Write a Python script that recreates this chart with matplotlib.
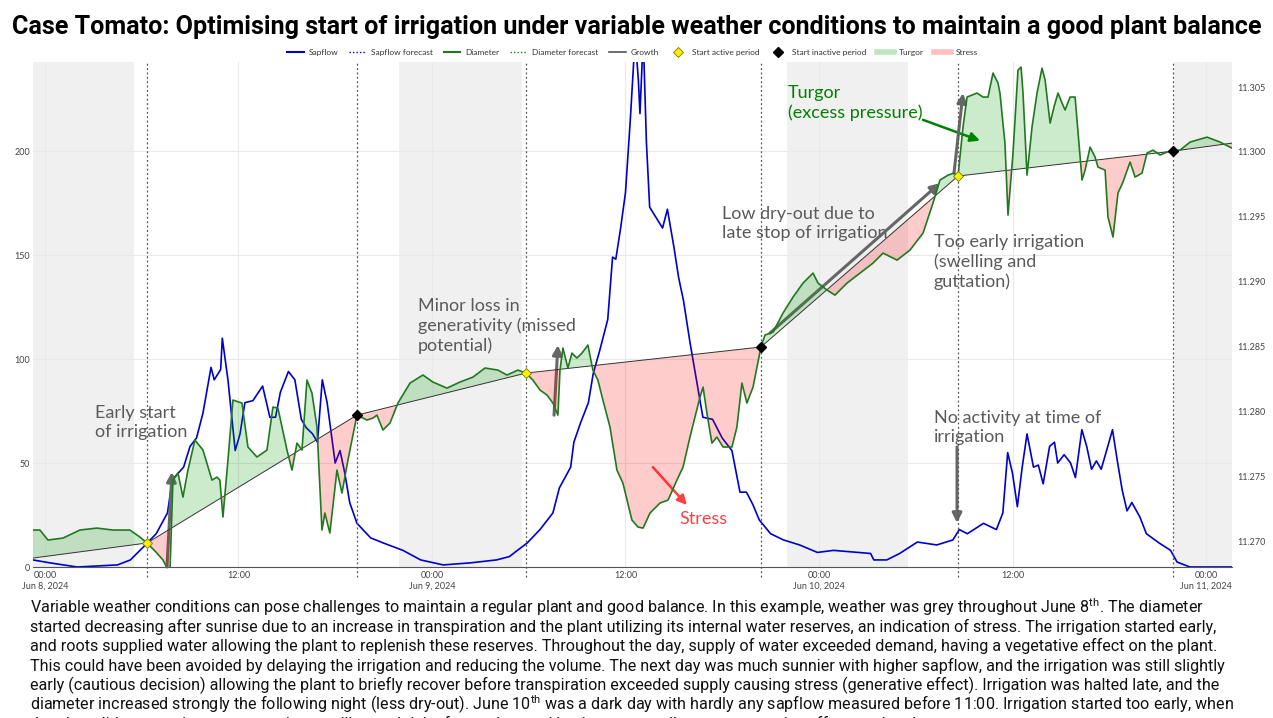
import numpy as np
import matplotlib
matplotlib.use("Agg")
import matplotlib.pyplot as plt
from matplotlib.lines import Line2D

plt.rcParams["font.family"] = ["Lato", "DejaVu Sans"]
plt.rcParams["mathtext.fontset"] = "custom"
plt.rcParams["mathtext.rm"] = "Roboto"

# hours since Jun 8, 2024 00:00
sap_hours = [-0.74, 0.31, 2.0, 4.5, 5.3, 6.1, 6.9, 7.6, 7.9, 8.6, 9.0, 9.4, 9.8, 10.3, 10.5, 10.9,
             11.0, 11.35, 11.8, 12.1, 12.4, 12.9, 13.5, 13.95, 14.3, 14.6, 15.1, 15.5, 15.9, 16.2,
             16.6, 16.9, 17.2, 17.5, 18.0, 18.3, 18.6, 18.9, 19.35, 20.2, 21.0, 22.2, 23.3, 24.7,
             26.4, 28.0, 28.8, 29.3, 29.9, 30.7, 31.5, 31.9, 32.6, 32.8, 33.2, 33.7, 34.0, 34.4,
             34.9, 35.2, 35.4, 35.7, 36.0, 36.3, 36.6, 36.8, 36.9, 37.1, 37.3, 37.5, 37.9, 38.3,
             38.6, 39.0, 39.3, 39.6, 40.0, 40.4, 40.8, 41.4, 42.0, 42.6, 43.1, 43.5, 43.9, 44.3,
             45.0, 45.8, 46.8, 47.9, 48.9, 50.4, 51.2, 51.4, 52.2, 53.0, 54.1, 55.3, 56.3, 56.7,
             57.2, 58.2, 59.0, 59.4, 59.7, 60.0, 60.3, 60.6, 60.9, 61.3, 61.6, 61.9, 62.3, 62.6,
             62.8, 63.2, 63.6, 63.9, 64.3, 64.6, 64.9, 65.2, 65.5, 66.2, 66.5, 66.8, 67.1, 67.4,
             67.9, 68.3, 69.1, 69.8, 70.2, 71.0, 73.6]
sapflow = [3.4, 2, 0, 1, 3.4, 9.6, 16, 26, 42, 48, 58, 62, 74, 96, 90, 95,
           110, 90, 56, 64, 79, 80, 87, 72, 72, 84, 94, 90, 71, 67,
           64, 60, 90, 79, 50, 56, 45, 31, 21, 14, 11.5, 8, 3.4, 1,
           2, 3.4, 5, 8, 11.5, 18, 26, 38, 48, 60, 69, 79, 93, 104,
           119, 149, 148, 163, 180, 215, 255, 234, 218, 255, 204, 173, 168, 163,
           172, 154, 139, 128, 108, 90, 72, 71, 62, 56, 36, 36, 30, 22.6,
           16, 13, 10.6, 7, 8, 7, 6.5, 3.4, 3.4, 6.5, 12, 10.6, 13, 18,
           16, 21, 18, 26, 55, 45, 29, 48, 64, 48, 49, 40, 58, 60,
           50, 54, 50, 43, 66, 58, 47, 51, 47, 66, 51, 37, 27, 31,
           24, 16, 11.5, 8, 2.4, 0, 0]

diam_hours = [-0.74, -0.31, 0.19, 1.12, 2.17, 3.22, 4.22, 5.27, 5.89, 6.33, 6.95, 7.32, 7.75, 7.94,
              8.25, 8.56, 8.87, 9.30, 9.80, 10.36, 10.67, 10.85, 11.04, 11.35, 11.66, 12.22, 12.59,
              13.15, 13.77, 14.14, 14.45, 15.01, 15.32, 15.63, 15.94, 16.25, 16.56, 16.87, 17.18,
              17.36, 17.67, 18.11, 18.42, 18.79, 19.35, 19.97, 20.34, 20.59, 20.96, 21.40, 21.89,
              22.64, 23.44, 24.06, 24.93, 25.74, 26.54, 27.29, 28.09, 28.65, 29.33, 29.83, 30.26,
              30.70, 31.13, 31.50, 31.81, 31.94, 32.12, 32.43, 32.68, 32.99, 33.30, 33.67, 33.98,
              34.29, 34.60, 35.04, 35.47, 35.84, 36.40, 36.78, 37.09, 37.52, 38.14, 38.64, 39.19,
              39.57, 40.00, 40.31, 40.62, 40.81, 41.05, 41.36, 41.67, 42.05, 42.60, 42.91, 43.22,
              43.53, 43.91, 44.40, 44.65, 45.15, 45.77, 46.39, 47.01, 47.63, 47.94, 48.50, 48.99,
              49.74, 50.54, 51.35, 51.97, 52.84, 53.64, 54.45, 55.07, 55.50, 56.00, 56.37, 56.62,
              56.93, 57.18, 57.80, 58.17, 58.48, 58.79, 59.10, 59.22, 59.53, 59.72, 60.03, 60.34,
              60.53, 60.65, 60.90, 61.21, 61.52, 61.83, 62.02, 62.33, 62.57, 62.82, 63.07, 63.26,
              63.57, 63.88, 64.00, 64.31, 64.50, 64.81, 65.12, 65.30, 65.74, 65.92, 66.23, 66.54,
              66.85, 67.29, 67.60, 68.03, 68.34, 68.71, 69.15, 69.58, 69.95, 70.39, 71.01, 72.06,
              72.87, 73.61]
diameter = [11.27085, 11.27085, 11.27008, 11.27023, 11.27085, 11.27100, 11.27085, 11.27085, 11.27031,
            11.26985, 11.26907, 11.26854, 11.26750, 11.27470, 11.27524, 11.27339, 11.27547, 11.27779,
            11.27702, 11.27470, 11.27493, 11.27470, 11.27185, 11.27624, 11.28087, 11.28064, 11.27725,
            11.27648, 11.27702, 11.28033, 11.28025, 11.27702, 11.27547, 11.27755, 11.27702, 11.28241,
            11.28141, 11.27879, 11.27085, 11.27216, 11.27062, 11.27547, 11.27370, 11.27624, 11.27971,
            11.27933, 11.27948, 11.27971, 11.27856, 11.27910, 11.28064, 11.28218, 11.28280, 11.28226,
            11.28179, 11.28226, 11.28264, 11.28334, 11.28318, 11.28280, 11.28318, 11.28295, 11.28241,
            11.28164, 11.28126, 11.28064, 11.27971, 11.28318, 11.28488, 11.28334, 11.28449, 11.28411,
            11.28449, 11.28511, 11.28318, 11.28241, 11.28087, 11.27879, 11.27547, 11.27447, 11.27162,
            11.27108, 11.27100, 11.27216, 11.27293, 11.27316, 11.27470, 11.27570, 11.27802, 11.27956,
            11.28110, 11.28187, 11.27987, 11.27755, 11.27802, 11.27725, 11.27725, 11.27879, 11.28218,
            11.28064, 11.28187, 11.28496, 11.28588, 11.28611, 11.28758, 11.28881, 11.28989, 11.29066,
            11.28989, 11.28935, 11.28896, 11.28989, 11.29066, 11.29143, 11.29220, 11.29166, 11.29243,
            11.29374, 11.29606, 11.29783, 11.29821, 11.29837, 11.29814, 11.30192, 11.30423, 11.30454,
            11.30423, 11.30423, 11.30608, 11.30531, 11.30454, 11.30068, 11.29513, 11.29991, 11.30631,
            11.30654, 11.30454, 11.29821, 11.30192, 11.30454, 11.30646, 11.30554, 11.30222, 11.30346,
            11.30454, 11.30377, 11.30323, 11.30423, 11.30423, 11.30245, 11.29783, 11.29860, 11.30037,
            11.29960, 11.29883, 11.29860, 11.29498, 11.29344, 11.29683, 11.29768, 11.29922, 11.29806,
            11.29837, 11.29991, 11.30014, 11.29976, 11.29999, 11.30006, 11.30014, 11.30076, 11.30114,
            11.30076, 11.30029]

growth_hours = [-0.74, 6.33, 19.35, 29.83, 44.40, 56.62, 69.95, 73.61]
growth = [11.26869, 11.26985, 11.27971, 11.28295, 11.28496, 11.29814, 11.30006, 11.30068]

active_start = [6.33, 29.83, 56.62]
inactive_start = [19.35, 44.40, 69.95]

night_start = [-0.74, 21.95, 46.0, 70.0]
night_end = [5.52, 29.58, 53.5, 73.61]

x_ticks = [0, 12, 24, 36, 48, 60, 72]
x_labels = ["00:00\nJun 8, 2024", "12:00", "00:00\nJun 9, 2024", "12:00",
            "00:00\nJun 10, 2024", "12:00", "00:00\nJun 11, 2024"]

title = "Case Tomato: Optimising start of irrigation under variable weather conditions to maintain a good plant balance"
body = [
    "Variable weather conditions can pose challenges to maintain a regular plant and good balance. In this example, weather was grey throughout June 8$^{\\mathrm{th}}$. The diameter",
    "started decreasing after sunrise due to an increase in transpiration and the plant utilizing its internal water reserves, an indication of stress. The irrigation started early,",
    "and roots supplied water allowing the plant to replenish these reserves. Throughout the day, supply of water exceeded demand, having a vegetative effect on the plant.",
    "This could have been avoided by delaying the irrigation and reducing the volume. The next day was much sunnier with higher sapflow, and the irrigation was still slightly",
    "early (cautious decision) allowing the plant to briefly recover before transpiration exceeded supply causing stress (generative effect). Irrigation was halted late, and the",
    "diameter increased strongly the following night (less dry-out). June 10$^{\\mathrm{th}}$ was a dark day with hardly any sapflow measured before 11:00. Irrigation started too early, when",
    "the plant did not require water, causing swelling and risk of guttation, and having an overall strong vegetative effect on the plant.",
]

fig = plt.figure(figsize=(12.73, 7.18), dpi=100)
ax = fig.add_axes([0.0259, 0.2103, 0.9419, 0.7033])
ax2 = ax.twinx()

# night bands
for s, e in zip(night_start, night_end):
    ax.axvspan(s, e, color="#f0f0f0", lw=0, zorder=0)

ax.plot(sap_hours, sapflow, color="#0000cc", lw=1.2, zorder=3)
ax.set_ylim(0, 242.8)
ax.set_xlim(-0.74, 73.61)
ax.set_yticks([0, 50, 100, 150, 200])
ax.set_xticks(x_ticks)
ax.set_xticklabels(x_labels)
ax.grid(True, color="#e9e9e9", lw=0.8, zorder=1)
ax.set_axisbelow(True)
for sp in ["top", "right", "left"]:
    ax.spines[sp].set_visible(False)
ax.spines["bottom"].set_color("#555555")
ax.tick_params(axis="both", length=0, labelsize=6.5, labelcolor="#444444", pad=3)
ax.tick_params(axis="y", pad=2)

# diameter & growth on the right axis
dh = np.array(diam_hours)
dv = np.array(diameter)
gv = np.interp(dh, growth_hours, growth)
ax2.fill_between(dh, dv, gv, where=dv >= gv, interpolate=True, color=(0, 0.6, 0, 0.2), lw=0)
ax2.fill_between(dh, dv, gv, where=dv < gv, interpolate=True, color=(1, 0, 0, 0.2), lw=0)
ax2.plot(growth_hours, growth, color="#333333", lw=0.7)
ax2.plot(diam_hours, diameter, color="#1f7a1f", lw=1.2)
ax2.plot(active_start, np.interp(active_start, growth_hours, growth), "D", color="#ffee00",
         mec="#777700", mew=0.6, ms=5, zorder=5)
ax2.plot(inactive_start, np.interp(inactive_start, growth_hours, growth), "D", color="black",
         ms=5, zorder=5)
for h in active_start + inactive_start:
    ax2.axvline(h, ymin=-0.02, ymax=1, color="#555555", lw=0.9, ls=(0, (1.5, 2)), clip_on=False)
ax2.set_ylim(11.268, 11.30693)
ax2.set_yticks(np.arange(11.270, 11.3051, 0.005))
ax2.yaxis.set_major_formatter(matplotlib.ticker.FormatStrFormatter("%.3f"))
for sp in ["top", "right", "left", "bottom"]:
    ax2.spines[sp].set_visible(False)
ax2.tick_params(axis="y", length=0, labelsize=6.5, labelcolor="#444444", pad=4)

# annotations (sapflow units on ax)
gray = "#5a5a5a"
arr = dict(arrowstyle="-|>", color="#666666", lw=2.2, mutation_scale=14, shrinkA=0, shrinkB=0)
ax.text(3.10, 77.9, "Early start\nof irrigation", color=gray, fontsize=13, va="top", linespacing=1.25, zorder=6)
ax.annotate("", xy=(7.88, 45.7), xytext=(7.57, 0), arrowprops=arr, zorder=6)
ax.text(23.13, 129.3, "Minor loss in\ngenerativity (missed\npotential)", color=gray, fontsize=13, va="top",
        linespacing=1.25, zorder=6)
ax.annotate("", xy=(31.81, 106.7), xytext=(31.57, 73), arrowprops=arr, zorder=6)
ax.text(41.98, 173.6, "Low dry-out due to\nlate stop of irrigation", color=gray, fontsize=13, va="top",
        linespacing=1.25, zorder=6)
ax.annotate("", xy=(55.5, 184.6), xytext=(44.96, 112.5), arrowprops=arr, zorder=6)
ax.text(46.08, 231.7, "Turgor\n(excess pressure)", color="#008000", fontsize=13, va="top",
        linespacing=1.25, zorder=6)
ax.annotate("", xy=(57.98, 205), xytext=(54.45, 215),
            arrowprops=dict(arr, color="#008000", lw=1.8), zorder=6)
ax.annotate("", xy=(56.93, 227.9), xytext=(56.37, 189.4), arrowprops=arr, zorder=6)
ax.text(55.13, 160.0, "Too early irrigation\n(swelling and\nguttation)", color=gray, fontsize=13, va="top",
        linespacing=1.25, zorder=6)
ax.text(55.13, 75.5, "No activity at time of\nirrigation", color=gray, fontsize=13, va="top",
        linespacing=1.25, zorder=6)
ax.annotate("", xy=(56.56, 21.2), xytext=(56.56, 57.7), arrowprops=arr, zorder=6)
ax.text(39.32, 23, "Stress", color="#ff4040", fontsize=13, va="center", zorder=6)
ax.annotate("", xy=(39.81, 29.8), xytext=(37.7, 48),
            arrowprops=dict(arr, color="#ff4040", lw=1.8), zorder=6)

# legend
handles = [
    Line2D([], [], color="#0000cc", lw=1.5),
    Line2D([], [], color="#0000cc", lw=1.0, ls=(0, (1, 1.5))),
    Line2D([], [], color="#1f7a1f", lw=1.5),
    Line2D([], [], color="#1f7a1f", lw=1.0, ls=(0, (1, 1.5))),
    Line2D([], [], color="#555555", lw=1.2),
    Line2D([], [], ls="", marker="D", color="#ffee00", mec="#777700", mew=0.6, ms=5),
    Line2D([], [], ls="", marker="D", color="black", ms=5),
    Line2D([], [], color=(0, 0.6, 0, 0.25), lw=4),
    Line2D([], [], color=(1, 0, 0, 0.25), lw=4),
]
labels = ["Sapflow", "Sapflow forecast", "Diameter", "Diameter forecast", "Growth",
          "Start active period", "Start inactive period", "Turgor", "Stress"]
fig.legend(handles, labels, loc="center", bbox_to_anchor=(0.497, 0.927), ncol=9, frameon=False,
           fontsize=6, handlelength=2.0, columnspacing=1.3, handletextpad=0.6, labelcolor="#333333")

fig.text(0.5, 0.962, title, ha="center", va="center", fontsize=18.1, fontweight="bold",
         family=["Roboto", "DejaVu Sans"])
for i, line in enumerate(body):
    fig.text(30 / 1273, 1 - (607 + i * 19.5) / 718, line, ha="left", va="center", fontsize=11.6,
             family=["Roboto", "DejaVu Sans"], color="#111111")

fig.savefig("out.png", dpi=100)
